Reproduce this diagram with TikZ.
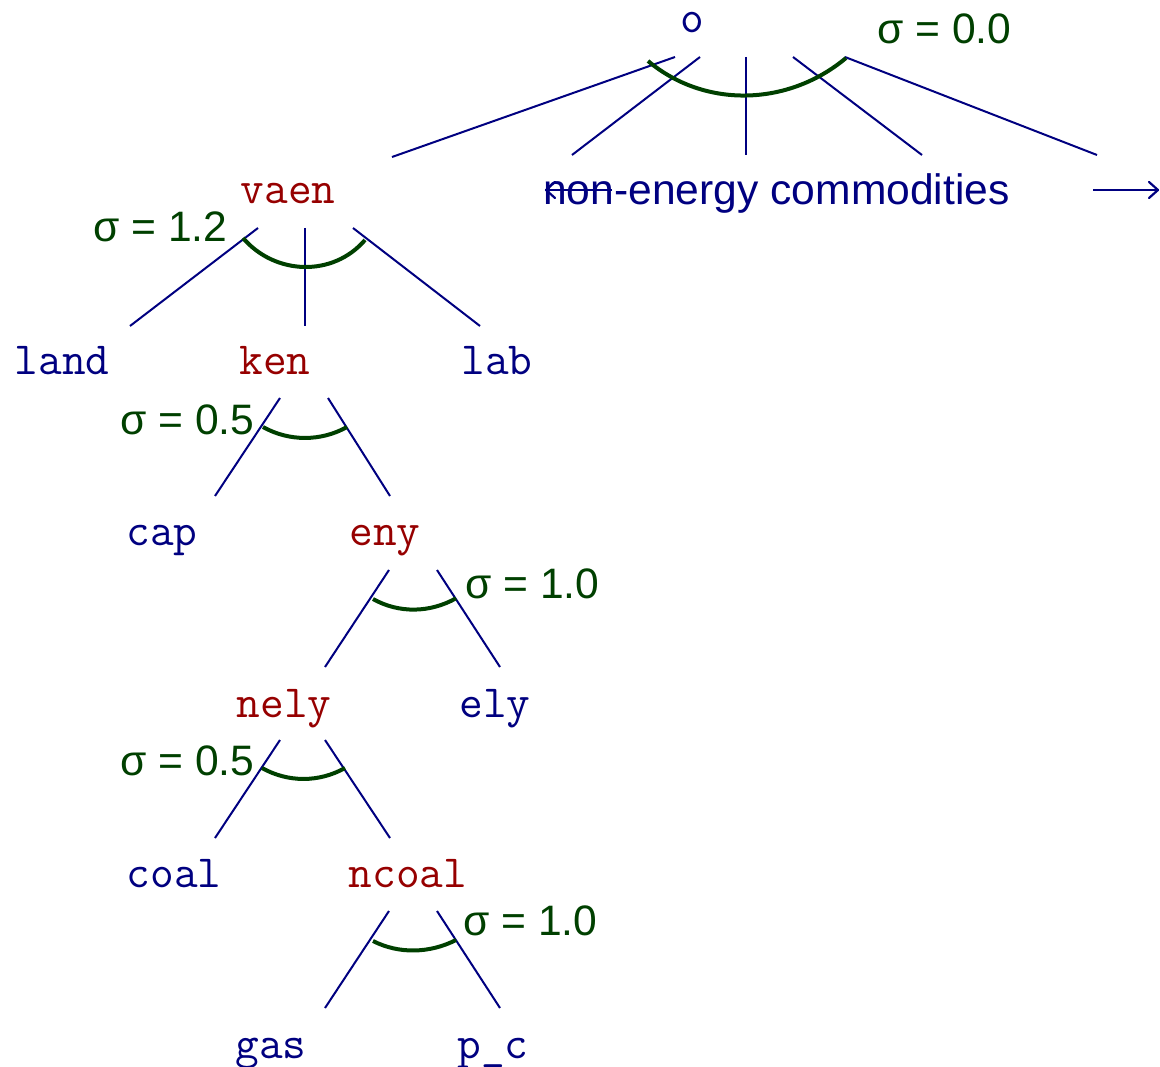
\documentclass[tikz,border=0pt]{standalone}
\usepackage{fontspec}
\setmainfont{Liberation Sans}
\usetikzlibrary{calc}
\definecolor{navy}{RGB}{0,0,128}
\definecolor{nestred}{RGB}{150,0,0}
\definecolor{sigmagreen}{RGB}{0,64,0}
\tikzset{
  leafnode/.style={anchor=base, inner sep=0pt, text=navy, font=\ttfamily\fontsize{46}{54}\selectfont},
  nestnode/.style={anchor=base, inner sep=0pt, text=nestred, font=\ttfamily\fontsize{46}{54}\selectfont},
  sigmalabel/.style={anchor=base west, inner sep=0pt, text=sigmagreen, font=\fontsize{42.6}{50}\selectfont},
  branch/.style={draw=navy, line width=2pt},
  tiphead/.style={draw=navy, line width=2.2pt, line cap=round, line join=round},
  elasarc/.style={draw=sigmagreen, line width=4pt},
  textnode/.style={anchor=base, inner sep=0pt, text=navy, font=\fontsize{42.6}{50}\selectfont}
}
\begin{document}
\begin{tikzpicture}[x=1pt,y=-1pt]
\useasboundingbox (0,0) rectangle (1160,1067);
% nodes
\node[leafnode] (o) at (692,33) {o};
\node[nestnode] (vaen) at (288,204) {vaen};
\node[textnode] (nec) at (776.5,205) {non-energy commodities};
\node[leafnode] (land) at (62,375) {land};
\node[nestnode] (ken) at (275,375) {ken};
\node[leafnode] (lab) at (497,375) {lab};
\node[leafnode] (cap) at (162,545) {cap};
\node[nestnode] (eny) at (385,545) {eny};
\node[nestnode] (nely) at (284,717) {nely};
\node[leafnode] (ely) at (495,717) {ely};
\node[leafnode] (coal) at (174,887) {coal};
\node[nestnode] (ncoal) at (408,887) {ncoal};
\node[leafnode] (gas) at (271,1058) {gas};
\node[leafnode] (pc) at (493,1058) {p\_c};
% sigma labels
\node[sigmalabel] (s0) at (877,44) {σ = 0.0};
\node[sigmalabel] (s1) at (93,242) {σ = 1.2};
\node[sigmalabel] (s2) at (120,435) {σ = 0.5};
\node[sigmalabel] (s3) at (465,598) {σ = 1.0};
\node[sigmalabel] (s4) at (120,775) {σ = 0.5};
\node[sigmalabel] (s5) at (463,935) {σ = 1.0};
% top branches
\draw[branch] (675,57) -- (392,157);
\draw[branch] (700,57) -- (572,155);
\draw[branch] (746,57) -- (746,155);
\draw[branch] (793,57) -- (922,155);
\draw[branch] (845,57) -- (1097,155);
\draw[elasarc] (648,61) .. controls (705.3,109) and (788.7,106) .. (846,58);
% arrows at non-energy commodities
\coordinate (la) at (612,190);
\coordinate (lb) at (546,190);
\coordinate (ra) at (1093,190);
\coordinate (rb) at (1158,190);
\draw[branch] (la) -- (lb);
\draw[tiphead] ($(lb)+(9,-8)$) -- (lb) -- ($(lb)+(9,8)$);
\draw[branch] (ra) -- (rb);
\draw[tiphead] ($(rb)+(-9,-8)$) -- (rb) -- ($(rb)+(-9,8)$);
% vaen
\draw[branch] (258,228) -- (130,326);
\draw[branch] (305,228) -- (305,326);
\draw[branch] (353,228) -- (480,326);
\draw[elasarc] (243,238) .. controls (275,275.3) and (333,277.3) .. (365,240);
% ken
\draw[branch] (280,398) -- (215,496);
\draw[branch] (328,398) -- (390,496);
\draw[elasarc] (263,427) .. controls (289,441.6) and (321,441.6) .. (347,427);
% eny
\draw[branch] (389,570) -- (325,667);
\draw[branch] (437,570) -- (500,667);
\draw[elasarc] (373,599) .. controls (399,613.6) and (430,612.9) .. (456,598.3);
% nely
\draw[branch] (280,740) -- (215,838);
\draw[branch] (325,740) -- (390,838);
\draw[elasarc] (262,768) .. controls (288,782.6) and (319,782.6) .. (345,768);
% ncoal
\draw[branch] (389,911) -- (325,1008);
\draw[branch] (437,911) -- (500,1008);
\draw[elasarc] (373,941) .. controls (399,954.3) and (430,953.3) .. (456,940);
\end{tikzpicture}
\end{document}
